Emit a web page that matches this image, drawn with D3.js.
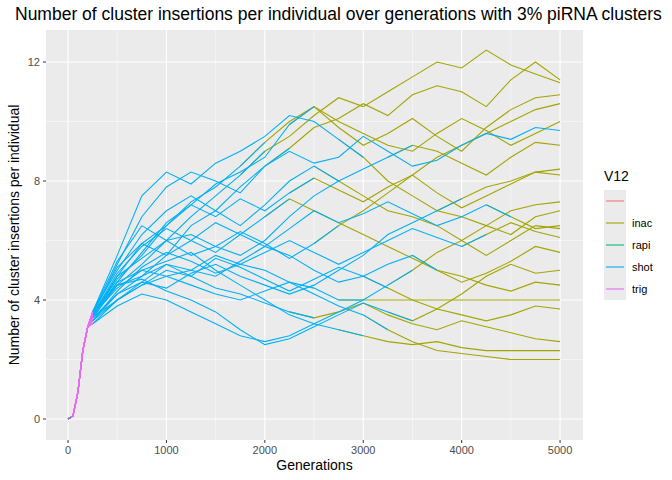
<!DOCTYPE html>
<html><head><meta charset="utf-8">
<script src="https://cdn.jsdelivr.net/npm/d3@7"></script>
<style>body{margin:0;background:#fff}text{font-family:"Liberation Sans",Arial,sans-serif}</style>
</head><body><svg id="c" width="672" height="480"></svg>
<script>
const categories = ["", "inac", "rapi", "shot", "trig"];
const colors = {"":"#F8766D", inac:"#A3A500", rapi:"#00BF7D", shot:"#00B0F6", trig:"#E76BF3"};
const xTicks = [0,1000,2000,3000,4000,5000];
const yTicks = [0,4,8,12];
const trigGens = [0,50,100,150,200];
const trigValues = [0,0.1,0.9,2.3,3.1];
const rapiGens = [0,30];
const rapiValues = [0,0.05];
const gens = d3.range(250,5001,250);
const inacFrom = [2000,2250,2500,3250,3000,2750,3000,3500,5001,3000,3500,3750,4000,2250,2500,2750,2000,4250,3250,2500,3500,4500];
const seriesValues = [
[3.6,4.5,5.2,6.0,6.8,7.5,8.2,9.0,9.5,10.2,10.8,10.5,11.0,11.5,12.0,11.8,12.4,11.9,11.6,11.3],
[3.4,4.2,4.8,5.5,6.5,7.0,7.8,8.5,9.1,9.8,10.1,10.6,10.2,10.9,11.2,11.0,10.5,11.4,12.0,11.4],
[3.5,4.8,5.9,6.5,7.2,7.9,8.3,8.8,9.9,10.5,9.8,9.2,9.6,10.1,9.5,9.0,9.8,10.4,10.8,10.9],
[3.3,4.0,4.5,4.8,5.0,5.5,5.2,5.0,4.6,4.2,3.8,3.5,3.0,2.6,2.3,2.2,2.1,2.0,2.0,2.0],
[3.5,4.4,5.0,5.3,5.6,5.0,4.5,4.0,3.5,3.2,3.0,2.8,2.6,2.5,2.6,2.4,2.3,2.3,2.3,2.3],
[3.6,5.0,6.2,7.0,7.5,7.0,6.5,7.2,8.0,8.5,8.0,7.5,7.0,6.8,6.5,6.0,5.5,6.0,6.5,6.4],
[3.4,4.6,5.0,4.8,4.5,4.2,4.0,4.3,4.6,4.4,4.0,4.0,4.0,4.0,4.0,4.0,4.0,4.0,4.0,4.0],
[3.2,3.8,4.2,4.0,3.6,3.2,2.8,2.6,2.8,3.2,3.6,4.0,4.5,5.0,5.6,6.0,6.5,7.0,7.2,7.3],
[3.5,5.2,6.8,7.8,8.3,8.0,7.6,8.5,9.0,8.6,8.8,9.5,9.0,8.5,8.7,9.2,9.6,9.4,9.8,9.7],
[3.6,5.5,7.5,8.3,7.9,8.6,9.0,9.5,10.2,10.0,9.4,8.8,8.0,7.5,7.0,6.8,6.5,6.2,6.8,7.0],
[3.4,4.8,5.4,6.0,6.2,5.8,5.5,6.0,6.8,7.5,8.0,8.4,8.8,9.2,9.0,8.6,8.2,8.8,9.3,9.2],
[3.5,4.5,4.8,5.2,5.0,4.8,5.3,5.8,5.5,5.0,4.6,4.8,5.2,5.5,5.0,4.6,4.9,5.3,5.8,5.6],
[3.3,4.2,4.6,4.4,4.9,5.2,4.8,4.5,4.2,4.5,5.0,5.5,6.2,6.6,7.0,7.4,7.8,8.0,8.3,8.4],
[3.5,4.9,5.8,6.4,6.0,5.6,6.2,6.8,7.4,7.0,6.6,6.2,5.8,5.4,5.0,4.8,4.5,4.3,4.6,4.5],
[3.4,4.0,4.5,5.0,4.8,4.4,4.2,3.9,3.6,3.4,3.6,3.9,3.5,3.2,3.0,3.3,3.1,2.9,2.7,2.6],
[3.6,5.3,6.5,6.0,5.5,5.8,6.3,5.9,5.4,5.9,6.5,7.0,7.6,8.2,8.8,9.2,9.6,10.0,10.4,10.6],
[3.5,4.7,5.5,6.5,7.3,7.8,8.5,9.3,10.0,10.5,10.0,9.6,9.2,9.0,9.6,10.1,9.7,9.2,9.6,10.0],
[3.3,4.3,5.1,5.6,5.3,4.9,5.2,5.6,6.0,5.6,5.2,5.6,6.0,6.4,6.1,5.8,6.2,6.6,6.3,6.1],
[3.2,4.0,4.6,5.2,4.8,5.4,5.1,4.7,4.3,4.7,5.1,4.8,4.4,4.0,3.7,3.5,3.3,3.5,3.8,3.7],
[3.5,4.6,5.6,6.6,7.2,6.8,7.4,7.0,7.6,8.1,7.7,7.3,7.8,8.2,7.6,7.1,7.5,7.9,8.3,8.2],
[3.4,4.5,4.7,4.3,4.0,3.6,3.0,2.5,2.7,3.1,3.5,3.9,3.6,3.3,3.7,4.2,4.8,5.2,4.9,5.0],
[3.6,5.1,5.9,5.5,6.0,6.6,6.2,5.8,6.4,7.0,6.6,6.9,7.3,6.9,6.5,6.8,7.2,6.8,6.4,6.5]
];
const svg = d3.select("#c");
const L=46,R=583,T=30,B=440;
const x = d3.scaleLinear().domain([-224,5233]).range([L,R]);
const y = d3.scaleLinear().domain([-0.706,13.076]).range([B,T]);
svg.append("rect").attr("x",L).attr("y",T).attr("width",R-L).attr("height",B-T).attr("fill","#EBEBEB");
const g = svg.append("g");
[500,1500,2500,3500,4500].forEach(v=>g.append("line").attr("x1",x(v)).attr("x2",x(v)).attr("y1",T).attr("y2",B).attr("stroke","#fff").attr("stroke-width",0.5));
[2,6,10].forEach(v=>g.append("line").attr("y1",y(v)).attr("y2",y(v)).attr("x1",L).attr("x2",R).attr("stroke","#fff").attr("stroke-width",0.5));
xTicks.forEach(v=>g.append("line").attr("x1",x(v)).attr("x2",x(v)).attr("y1",T).attr("y2",B).attr("stroke","#fff").attr("stroke-width",1.1));
yTicks.forEach(v=>g.append("line").attr("y1",y(v)).attr("y2",y(v)).attr("x1",L).attr("x2",R).attr("stroke","#fff").attr("stroke-width",1.1));
const line = d3.line().x(d=>x(d[0])).y(d=>y(d[1]));
const pts = seriesValues.map(vs=>gens.map((gg,i)=>[gg,vs[i]]));
function draw(p,c){g.append("path").attr("d",line(p)).attr("fill","none").attr("stroke",colors[c]).attr("stroke-width",1.1);}
pts.forEach((p,i)=>{const s=p.filter(d=>d[0]>=inacFrom[i]-250); if(inacFrom[i]<=5000) draw(s,"inac");});
pts.forEach((p,i)=>{draw(p.filter(d=>d[0]<=inacFrom[i]),"shot");});
pts.forEach(p=>draw(trigGens.map((gg,i)=>[gg,trigValues[i]]).concat([p[0]]),"trig"));
draw(rapiGens.map((gg,i)=>[gg,rapiValues[i]]),"rapi");
xTicks.forEach(v=>{svg.append("line").attr("x1",x(v)).attr("x2",x(v)).attr("y1",B).attr("y2",B+3).attr("stroke","#333");
 svg.append("text").attr("x",x(v)).attr("y",B+14).attr("text-anchor","middle").attr("font-size",11).attr("fill","#4D4D4D").text(v);});
yTicks.forEach(v=>{svg.append("line").attr("x1",L-3).attr("x2",L).attr("y1",y(v)).attr("y2",y(v)).attr("stroke","#333");
 svg.append("text").attr("x",L-6).attr("y",y(v)+4).attr("text-anchor","end").attr("font-size",11).attr("fill","#4D4D4D").text(v);});
svg.append("text").attr("x",(L+R)/2).attr("y",470).attr("text-anchor","middle").attr("font-size",14).text("Generations");
svg.append("text").attr("transform",`translate(19,${(T+B)/2}) rotate(-90)`).attr("text-anchor","middle").attr("font-size",14).text("Number of cluster insertions per individual");
svg.append("text").attr("x",15).attr("y",20).attr("font-size",17.5).text("Number of cluster insertions per individual over generations with 3% piRNA clusters");
svg.append("text").attr("x",604).attr("y",181).attr("font-size",14).text("V12");
categories.forEach((c,i)=>{const yy=190+i*22;
 svg.append("rect").attr("x",604).attr("y",yy).attr("width",22).attr("height",22).attr("fill","#EBEBEB");
 svg.append("line").attr("x1",606).attr("x2",624).attr("y1",yy+11).attr("y2",yy+11).attr("stroke",colors[c]).attr("stroke-width",1.1);
 svg.append("text").attr("x",632).attr("y",yy+15).attr("font-size",11).text(c);});
</script></body></html>
